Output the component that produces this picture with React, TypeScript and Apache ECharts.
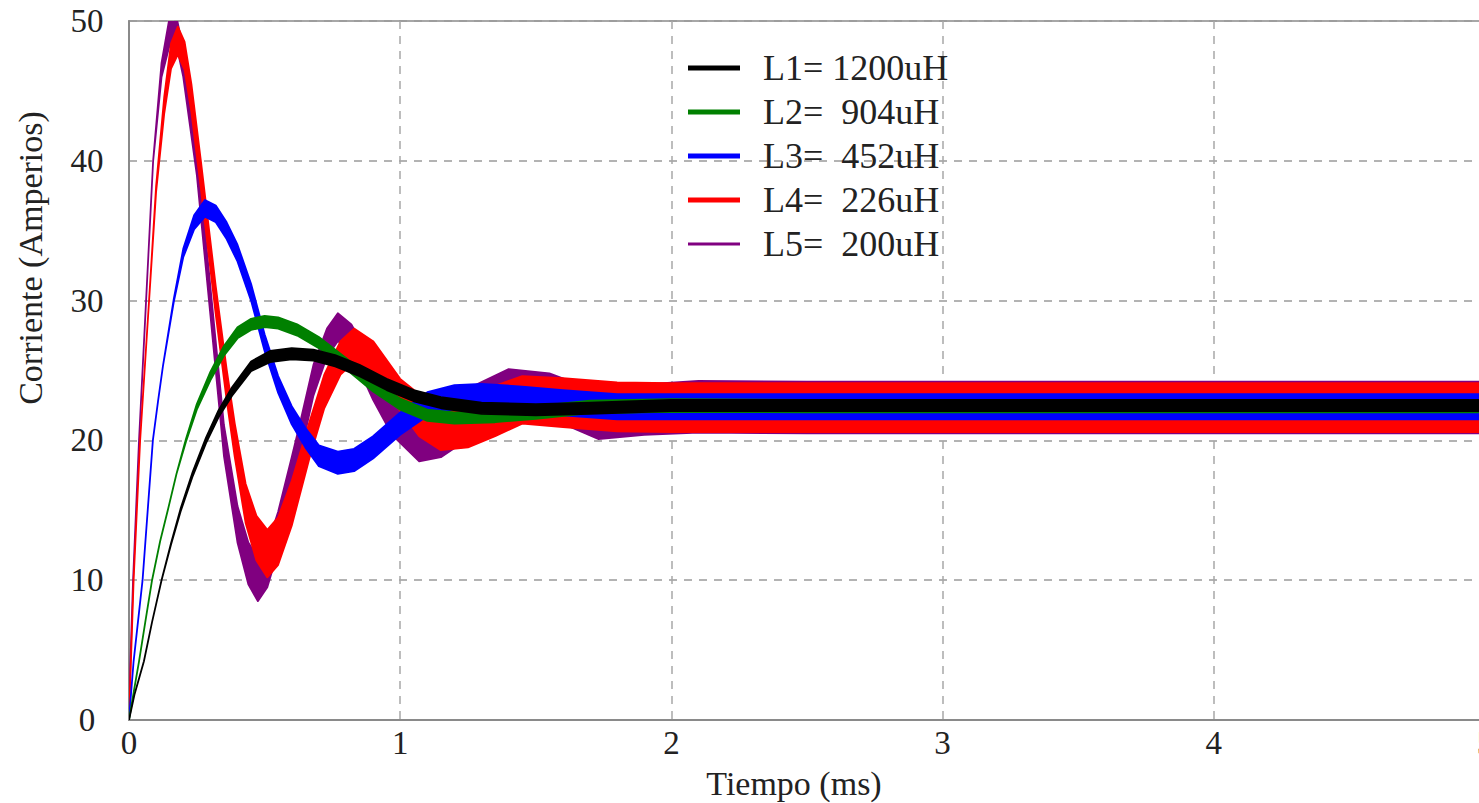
import React, { useEffect, useRef } from "react";
import * as echarts from "echarts";

// Axis ticks
const xTicks = [0, 1, 2, 3, 4, 5];
const yTicks = [0, 10, 20, 30, 40, 50];

// Legend labels and colours
const seriesNames = ["L1= 1200uH", "L2=  904uH", "L3=  452uH", "L4=  226uH", "L5=  200uH"];
const seriesColors = ["#000000", "#008000", "#0000ff", "#ff0000", "#800080"];

// L1 = 1200uH (time ms, centre A, ripple half-amplitude A)
const l1Time = [0, 0.02, 0.055, 0.085, 0.12, 0.155, 0.19, 0.235, 0.284, 0.33, 0.38, 0.45, 0.52, 0.6, 0.68, 0.76, 0.85, 0.95, 1.05, 1.15, 1.3, 1.5, 1.7, 2.0, 2.5, 3.0, 3.5, 4.0, 4.5, 5.0];
const l1Center = [0, 1.8, 4.2, 7.0, 10.0, 12.6, 15.0, 17.6, 20.0, 21.9, 23.5, 25.3, 26.0, 26.2, 26.1, 25.7, 25.0, 24.0, 23.2, 22.7, 22.3, 22.2, 22.3, 22.5, 22.5, 22.5, 22.5, 22.5, 22.5, 22.5];
const l1Ripple = [0, 0, 0, 0, 0, 0.05, 0.1, 0.15, 0.2, 0.25, 0.3, 0.35, 0.4, 0.4, 0.4, 0.4, 0.4, 0.4, 0.4, 0.4, 0.4, 0.4, 0.4, 0.4, 0.4, 0.4, 0.4, 0.4, 0.4, 0.4];

// L2 = 904uH
const l2Time = [0, 0.02, 0.037, 0.06, 0.085, 0.115, 0.143, 0.175, 0.21, 0.25, 0.3, 0.35, 0.4, 0.45, 0.5, 0.55, 0.62, 0.7, 0.8, 0.9, 1.0, 1.1, 1.2, 1.35, 1.5, 1.7, 2.0, 2.5, 3.0, 3.5, 4.0, 4.5, 5.0];
const l2Center = [0, 2.3, 4.2, 7.0, 10.0, 12.8, 15.0, 17.6, 20.0, 22.4, 24.6, 26.4, 27.7, 28.3, 28.5, 28.4, 27.9, 27.0, 25.5, 23.9, 22.6, 21.8, 21.6, 21.7, 22.0, 22.4, 22.5, 22.45, 22.45, 22.45, 22.45, 22.45, 22.45];
const l2Ripple = [0, 0, 0, 0, 0, 0, 0, 0, 0.1, 0.2, 0.3, 0.35, 0.4, 0.4, 0.4, 0.4, 0.4, 0.4, 0.4, 0.4, 0.4, 0.4, 0.4, 0.4, 0.45, 0.45, 0.45, 0.45, 0.45, 0.45, 0.45, 0.45, 0.45];

// L3 = 452uH
const l3Time = [0, 0.008, 0.017, 0.05, 0.088, 0.107, 0.125, 0.165, 0.2, 0.24, 0.28, 0.32, 0.36, 0.4, 0.45, 0.5, 0.55, 0.6, 0.65, 0.7, 0.77, 0.83, 0.9, 1.0, 1.1, 1.2, 1.3, 1.45, 1.6, 1.8, 2.0, 2.5, 3.0, 3.5, 4.0, 4.5, 5.0];
const l3Center = [0, 2.0, 4.2, 10.0, 20.0, 22.8, 25.3, 30.0, 33.4, 35.6, 36.6, 36.2, 35.0, 33.4, 30.6, 27.0, 24.0, 21.8, 20.2, 18.9, 18.4, 18.6, 19.5, 21.2, 22.6, 23.1, 23.2, 23.0, 22.7, 22.4, 22.4, 22.4, 22.4, 22.4, 22.4, 22.4, 22.4];
const l3Ripple = [0, 0, 0, 0, 0, 0, 0, 0.1, 0.3, 0.5, 0.6, 0.6, 0.6, 0.6, 0.6, 0.6, 0.6, 0.65, 0.7, 0.75, 0.8, 0.8, 0.8, 0.8, 0.85, 0.85, 0.85, 0.85, 0.9, 0.9, 0.9, 0.9, 0.9, 0.9, 0.9, 0.9, 0.9];

// L4 = 226uH
const l4Time = [0, 0.005, 0.017, 0.041, 0.074, 0.1, 0.13, 0.155, 0.18, 0.205, 0.23, 0.265, 0.32, 0.36, 0.39, 0.43, 0.47, 0.51, 0.55, 0.6, 0.665, 0.72, 0.78, 0.83, 0.9, 1.0, 1.07, 1.15, 1.25, 1.35, 1.45, 1.6, 1.8, 2.0, 2.5, 3.0, 3.5, 4.0, 4.5, 5.0];
const l4Center = [0, 3, 10, 20, 30, 38, 44, 47.5, 48.6, 47.5, 44.5, 39, 30, 24, 20, 15.5, 13, 11.9, 12.8, 15.5, 20, 23.5, 25.9, 26.8, 25.9, 23.25, 21.8, 21.0, 21.3, 22.1, 22.9, 22.7, 22.4, 22.35, 22.35, 22.35, 22.35, 22.35, 22.35, 22.35];
const l4Ripple = [0, 0, 0, 0, 0, 0.2, 0.6, 0.9, 1.0, 1.0, 1.0, 1.0, 1.0, 1.1, 1.2, 1.4, 1.6, 1.7, 1.7, 1.6, 1.3, 1.2, 1.2, 1.2, 1.2, 1.15, 1.5, 1.7, 1.8, 1.8, 1.7, 1.75, 1.75, 1.75, 1.75, 1.75, 1.75, 1.75, 1.75, 1.75];

// L5 = 200uH
const l5Time = [0, 0.005, 0.015, 0.037, 0.063, 0.089, 0.12, 0.15, 0.175, 0.2, 0.225, 0.25, 0.3, 0.35, 0.4, 0.44, 0.475, 0.51, 0.55, 0.6, 0.63, 0.68, 0.73, 0.77, 0.82, 0.9, 0.97, 1.07, 1.15, 1.25, 1.4, 1.55, 1.73, 1.9, 2.1, 2.5, 3.0, 3.5, 4.0, 4.5, 5.0];
const l5Center = [0, 4, 10, 20, 30, 40, 46.5, 49.3, 49.3, 47, 43.5, 40, 30, 20, 14, 11.2, 10.05, 11, 13.5, 17.5, 20, 24.3, 27.0, 28.1, 27.3, 24.2, 22.0, 20.5, 20.8, 21.9, 23.5, 23.2, 21.8, 22.2, 22.4, 22.35, 22.35, 22.35, 22.35, 22.35, 22.35];
const l5Ripple = [0, 0, 0, 0, 0, 0, 0.5, 1.0, 1.0, 1.0, 1.0, 1.0, 1.0, 1.1, 1.3, 1.5, 1.55, 1.5, 1.4, 1.3, 1.2, 1.1, 1.0, 1.0, 1.0, 1.3, 1.6, 2.0, 2.0, 1.8, 1.6, 1.6, 1.7, 1.8, 1.85, 1.85, 1.85, 1.85, 1.85, 1.85, 1.85];

const FONT = '"Liberation Serif", "Times New Roman", serif';
const TEXT_COLOR = "#222222";

function bandSeries(name: string, color: string, time: number[], center: number[], ripple: number[]) {
  const data = time.map((t, i) => [t, center[i] - ripple[i], center[i] + ripple[i]]);
  return {
    type: "custom",
    name,
    data,
    silent: true,
    clip: true,
    encode: { x: 0, y: [1, 2] },
    renderItem: (params: any, api: any) => {
      if (params.dataIndexInside !== 0) return null;
      const n = params.dataInsideLength;
      const upper: number[][] = [];
      const lower: number[][] = [];
      for (let i = 0; i < n; i++) {
        const t = api.value(0, i);
        upper.push(api.coord([t, api.value(2, i)]));
        lower.push(api.coord([t, api.value(1, i)]));
      }
      const points = upper.concat(lower.reverse());
      return {
        type: "polygon",
        shape: { points },
        style: { fill: color, stroke: color, lineWidth: 1.8, lineJoin: "round" },
      };
    },
  };
}

const CHART_W = 1500;

export default function App() {
  const ref = useRef<HTMLDivElement>(null);

  useEffect(() => {
    if (!ref.current) return;
    const chart = echarts.init(ref.current, null, { renderer: "svg" });

    const series = [
      bandSeries(seriesNames[4], seriesColors[4], l5Time, l5Center, l5Ripple),
      bandSeries(seriesNames[3], seriesColors[3], l4Time, l4Center, l4Ripple),
      bandSeries(seriesNames[2], seriesColors[2], l3Time, l3Center, l3Ripple),
      bandSeries(seriesNames[1], seriesColors[1], l2Time, l2Center, l2Ripple),
      bandSeries(seriesNames[0], seriesColors[0], l1Time, l1Center, l1Ripple),
    ];

    const legendTop = 68;
    const legendGap = 44;
    const legendGraphics: any[] = [];
    seriesNames.forEach((name, i) => {
      const yc = legendTop + i * legendGap;
      const h = i === 4 ? 3 : 5;
      legendGraphics.push({
        type: "rect",
        left: 688,
        top: yc - h / 2,
        shape: { width: 52, height: h },
        style: { fill: seriesColors[i] },
        z: 100,
      });
      legendGraphics.push({
        type: "text",
        x: 763,
        y: yc,
        style: {
          text: name,
          font: `36px ${FONT}`,
          fill: TEXT_COLOR,
          textAlign: "left",
          textVerticalAlign: "middle",
        },
        z: 100,
      });
    });

    chart.setOption({
      animation: false,
      backgroundColor: "#ffffff",
      grid: {
        left: 129,
        right: CHART_W - 1485,
        top: 21,
        bottom: 83,
        show: true,
        borderColor: "#8a8a8a",
        borderWidth: 1.5,
        backgroundColor: "transparent",
      },
      xAxis: {
        type: "value",
        min: xTicks[0],
        max: xTicks[xTicks.length - 1],
        interval: 1,
        axisLine: { show: true, lineStyle: { color: "#8a8a8a", width: 2 } },
        axisTick: { show: false },
        axisLabel: {
          fontFamily: FONT,
          fontSize: 33,
          color: TEXT_COLOR,
          margin: 6,
        },
        splitLine: {
          show: true,
          lineStyle: { color: "#a8a8a8", width: 1.5, type: [8, 7] },
        },
      },
      yAxis: {
        type: "value",
        min: yTicks[0],
        max: yTicks[yTicks.length - 1],
        interval: 10,
        axisLine: { show: true, lineStyle: { color: "#8a8a8a", width: 2 } },
        axisTick: { show: false },
        axisLabel: {
          fontFamily: FONT,
          fontSize: 33,
          color: TEXT_COLOR,
          align: "center",
          margin: 42,
        },
        splitLine: {
          show: true,
          lineStyle: { color: "#9a9a9a", width: 1.5, type: [8, 7] },
        },
      },
      graphic: [
        {
          type: "text",
          x: 794,
          y: 783,
          style: {
            text: "Tiempo (ms)",
            font: `34px ${FONT}`,
            fill: TEXT_COLOR,
            textAlign: "center",
            textVerticalAlign: "middle",
          },
        },
        {
          type: "text",
          x: 30,
          y: 258,
          rotation: Math.PI / 2,
          style: {
            text: "Corriente (Amperios)",
            font: `34px ${FONT}`,
            fill: TEXT_COLOR,
            textAlign: "center",
            textVerticalAlign: "middle",
          },
        },
        ...legendGraphics,
      ],
      series,
    });

    return () => {
      chart.dispose();
    };
  }, []);

  return (
    <div
      style={{ position: "fixed", left: 0, top: 0, width: 1479, height: 803, overflow: "hidden", background: "#ffffff" }}
    >
      <div ref={ref} style={{ width: CHART_W, height: 803 }} />
    </div>
  );
}
